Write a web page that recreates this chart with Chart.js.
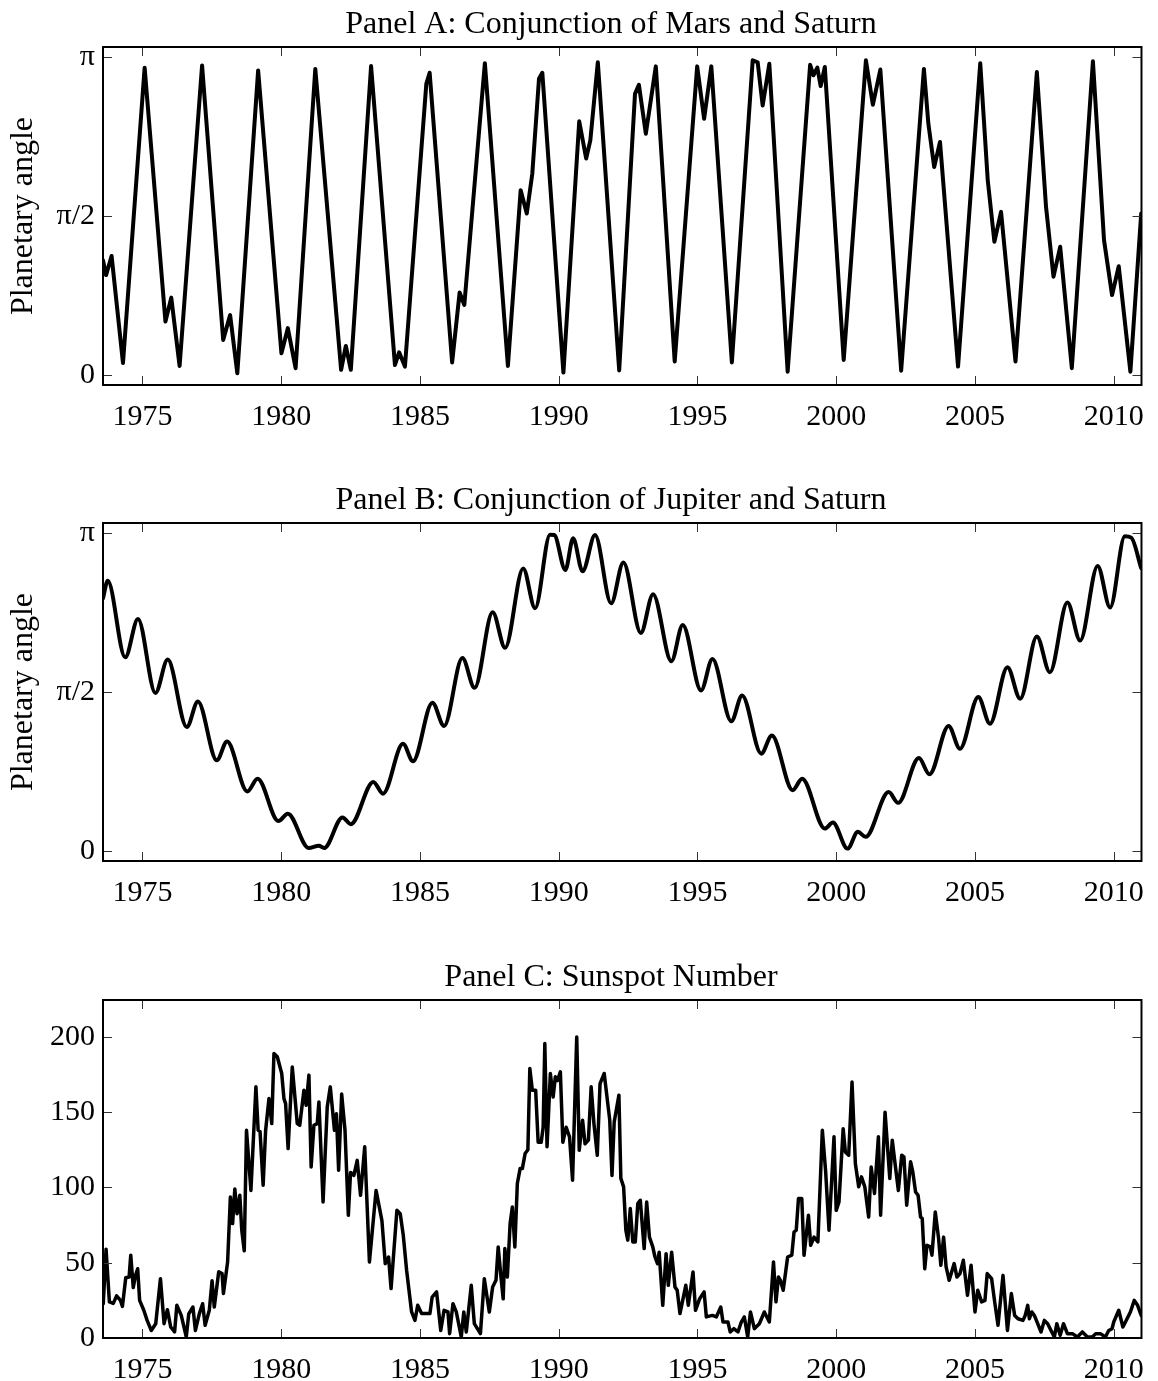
<!DOCTYPE html>
<html>
<head>
<meta charset="utf-8">
<title>Planetary conjunctions and sunspots</title>
<script src="https://cdn.jsdelivr.net/npm/chart.js@4.4.0/dist/chart.umd.min.js"></script>
<style>
  body { margin: 0; background: #fff; width: 1158px; height: 1381px; overflow: hidden; position: relative; }
  canvas { position: absolute; left: 0; }
</style>
</head>
<body>
<canvas id="panelA" width="1158" height="476" style="top:0px"></canvas>
<canvas id="panelB" width="1158" height="476" style="top:476px"></canvas>
<canvas id="panelC" width="1158" height="428" style="top:953px"></canvas>
<script>
// x ticks shared by all panels
var yearTicks = [1975, 1980, 1985, 1990, 1995, 2000, 2005, 2010];

// Panel A: Mars / Saturn angle, in units of pi
var yearsA = [1973.58, 1973.69, 1973.89, 1974.30, 1975.08, 1975.83, 1976.04, 1976.34, 1977.15, 1977.91,
  1978.16, 1978.42, 1979.17, 1980.01, 1980.24, 1980.52, 1981.23, 1982.16, 1982.33, 1982.51,
  1983.24, 1984.10, 1984.25, 1984.46, 1985.23, 1985.35, 1986.16, 1986.43, 1986.60, 1987.34,
  1988.17, 1988.63, 1988.85, 1989.05, 1989.29, 1989.41, 1990.17, 1990.74, 1990.99, 1991.14,
  1991.41, 1992.18, 1992.75, 1992.89, 1993.14, 1993.50, 1994.18, 1994.99, 1995.24, 1995.50,
  1996.24, 1996.99, 1997.17, 1997.35, 1997.59, 1998.25, 1999.06, 1999.18, 1999.32, 1999.44,
  1999.59, 2000.27, 2001.07, 2001.32, 2001.59, 2002.34, 2003.16, 2003.32, 2003.53, 2003.74,
  2004.39, 2005.19, 2005.46, 2005.70, 2005.94, 2006.46, 2007.23, 2007.56, 2007.83, 2008.07,
  2008.49, 2009.25, 2009.65, 2009.94, 2010.18, 2010.60, 2010.99];
var angleA = [0.361, 0.314, 0.374, 0.037, 0.967, 0.168, 0.243, 0.028, 0.974, 0.110,
  0.188, 0.005, 0.958, 0.068, 0.147, 0.021, 0.963, 0.016, 0.091, 0.016,
  0.972, 0.031, 0.071, 0.026, 0.916, 0.951, 0.039, 0.259, 0.220, 0.981,
  0.028, 0.581, 0.508, 0.634, 0.932, 0.951, 0.007, 0.798, 0.681, 0.738,
  0.984, 0.014, 0.885, 0.913, 0.759, 0.971, 0.042, 0.971, 0.806, 0.971,
  0.039, 0.990, 0.984, 0.848, 0.979, 0.010, 0.976, 0.943, 0.967, 0.909,
  0.969, 0.047, 0.990, 0.850, 0.961, 0.013, 0.963, 0.791, 0.654, 0.733,
  0.026, 0.981, 0.613, 0.419, 0.513, 0.042, 0.953, 0.529, 0.309, 0.403,
  0.021, 0.987, 0.424, 0.251, 0.342, 0.010, 0.508];

// Panel B: Jupiter / Saturn angle, in units of pi
var yearsB = [1973.58, 1973.75, 1974.38, 1974.84, 1975.47, 1975.91, 1976.60, 1977.00, 1977.68, 1978.05,
  1978.78, 1979.15, 1979.90, 1980.24, 1980.99, 1981.36, 1981.55, 1982.21, 1982.51, 1983.32,
  1983.67, 1984.39, 1984.75, 1985.45, 1985.87, 1986.53, 1986.97, 1987.62, 1988.07, 1988.72,
  1989.15, 1989.69, 1989.84, 1990.24, 1990.52, 1990.86, 1991.31, 1991.89, 1992.33, 1992.96,
  1993.40, 1994.06, 1994.47, 1995.13, 1995.54, 1996.22, 1996.61, 1997.30, 1997.68, 1998.43,
  1998.77, 1999.59, 1999.88, 2000.41, 2000.78, 2001.06, 2001.89, 2002.23, 2002.98, 2003.36,
  2004.05, 2004.46, 2005.12, 2005.54, 2006.17, 2006.63, 2007.23, 2007.70, 2008.33, 2008.79,
  2009.42, 2009.87, 2010.40, 2010.63, 2010.99];
var angleB = [0.795, 0.850, 0.609, 0.730, 0.497, 0.602, 0.390, 0.470, 0.285, 0.344,
  0.187, 0.227, 0.094, 0.117, 0.009, 0.016, 0.009, 0.105, 0.084, 0.217,
  0.180, 0.337, 0.282, 0.466, 0.393, 0.607, 0.513, 0.751, 0.639, 0.889,
  0.764, 0.995, 0.994, 0.884, 0.984, 0.880, 0.994, 0.779, 0.908, 0.686,
  0.808, 0.597, 0.711, 0.505, 0.604, 0.408, 0.489, 0.306, 0.363, 0.191,
  0.227, 0.070, 0.089, 0.007, 0.060, 0.044, 0.185, 0.151, 0.292, 0.241,
  0.393, 0.321, 0.484, 0.400, 0.578, 0.479, 0.675, 0.562, 0.782, 0.662,
  0.897, 0.766, 0.990, 0.986, 0.890];

// Panel C: sunspot number
var yearsC = [1973.59, 1973.69, 1973.81, 1973.95, 1974.07, 1974.21, 1974.28, 1974.40, 1974.52, 1974.58,
  1974.67, 1974.75, 1974.83, 1974.90, 1975.05, 1975.17, 1975.32, 1975.48, 1975.65, 1975.78,
  1975.90, 1976.02, 1976.16, 1976.24, 1976.40, 1976.58, 1976.67, 1976.82, 1976.91, 1977.05,
  1977.17, 1977.26, 1977.41, 1977.51, 1977.59, 1977.75, 1977.87, 1977.92, 1978.07, 1978.17,
  1978.25, 1978.33, 1978.41, 1978.51, 1978.58, 1978.67, 1978.75, 1978.91, 1979.09, 1979.17,
  1979.24, 1979.35, 1979.44, 1979.56, 1979.66, 1979.74, 1979.86, 1980.02, 1980.10, 1980.16,
  1980.25, 1980.40, 1980.58, 1980.67, 1980.82, 1980.90, 1981.00, 1981.08, 1981.18, 1981.30,
  1981.36, 1981.51, 1981.66, 1981.77, 1981.92, 1981.99, 1982.07, 1982.18, 1982.30, 1982.42,
  1982.50, 1982.62, 1982.74, 1982.86, 1983.01, 1983.18, 1983.42, 1983.63, 1983.75, 1983.87,
  1983.96, 1984.17, 1984.29, 1984.40, 1984.52, 1984.70, 1984.82, 1984.92, 1985.06, 1985.24,
  1985.36, 1985.44, 1985.60, 1985.75, 1985.87, 1986.01, 1986.07, 1986.19, 1986.31, 1986.49,
  1986.58, 1986.67, 1986.85, 1986.96, 1987.18, 1987.32, 1987.50, 1987.62, 1987.74, 1987.82,
  1987.92, 1988.00, 1988.06, 1988.15, 1988.25, 1988.33, 1988.42, 1988.51, 1988.61, 1988.69,
  1988.79, 1988.89, 1988.96, 1989.05, 1989.17, 1989.26, 1989.37, 1989.44, 1989.50, 1989.58,
  1989.70, 1989.80, 1989.88, 1989.96, 1990.06, 1990.15, 1990.27, 1990.39, 1990.50, 1990.65,
  1990.74, 1990.86, 1990.95, 1991.07, 1991.17, 1991.27, 1991.39, 1991.49, 1991.64, 1991.84,
  1991.92, 1992.00, 1992.17, 1992.24, 1992.34, 1992.42, 1992.49, 1992.58, 1992.67, 1992.76,
  1992.85, 1992.94, 1993.08, 1993.17, 1993.27, 1993.39, 1993.47, 1993.56, 1993.62, 1993.75,
  1993.87, 1993.95, 1994.07, 1994.19, 1994.27, 1994.37, 1994.58, 1994.67, 1994.84, 1994.93,
  1995.08, 1995.24, 1995.32, 1995.54, 1995.68, 1995.84, 1995.92, 1996.10, 1996.18, 1996.31,
  1996.46, 1996.58, 1996.69, 1996.81, 1996.91, 1997.05, 1997.23, 1997.41, 1997.59, 1997.74,
  1997.83, 1997.92, 1997.99, 1998.09, 1998.25, 1998.40, 1998.48, 1998.56, 1998.64, 1998.76,
  1998.84, 1999.00, 1999.08, 1999.20, 1999.34, 1999.50, 1999.62, 1999.74, 1999.92, 2000.00,
  2000.10, 2000.25, 2000.33, 2000.45, 2000.57, 2000.69, 2000.81, 2000.91, 2001.03, 2001.17,
  2001.26, 2001.38, 2001.52, 2001.60, 2001.76, 2001.93, 2002.02, 2002.12, 2002.24, 2002.36,
  2002.44, 2002.54, 2002.68, 2002.76, 2002.86, 2002.95, 2003.04, 2003.10, 2003.19, 2003.27,
  2003.39, 2003.45, 2003.57, 2003.69, 2003.77, 2003.87, 2003.96, 2004.07, 2004.25, 2004.35,
  2004.46, 2004.58, 2004.73, 2004.86, 2005.00, 2005.10, 2005.24, 2005.36, 2005.44, 2005.60,
  2005.71, 2005.83, 2006.01, 2006.17, 2006.31, 2006.43, 2006.55, 2006.73, 2006.81, 2006.90,
  2006.96, 2007.05, 2007.14, 2007.26, 2007.38, 2007.50, 2007.62, 2007.74, 2007.86, 2007.95,
  2008.07, 2008.19, 2008.33, 2008.51, 2008.69, 2008.87, 2009.05, 2009.23, 2009.35, 2009.52,
  2009.70, 2009.82, 2009.94, 2010.00, 2010.18, 2010.33, 2010.48, 2010.60, 2010.74, 2010.86,
  2010.99];
var sunspots = [22.8, 59, 24, 23, 28, 25, 21, 40, 40.5, 55,
  33.5, 41.6, 46, 25, 18.4, 11.7, 5, 9.5, 39.4, 9.5,
  18.8, 7.3, 4, 21.7, 15, 0.7, 16, 20.6, 5, 16,
  22.8, 8.4, 18.4, 38, 20.6, 44, 42.8, 29.5, 50.5, 93.7,
  76, 99, 82.6, 94.8, 71.6, 58, 138, 98, 166.8, 138,
  137, 101.5, 138, 159, 142.4, 189, 186.8, 175.7, 159, 155.7,
  125.8, 180, 142.4, 141.3, 164.6, 154.6, 174.6, 113.6, 141.3, 142.4,
  156.8, 90.4, 153.5, 166.8, 138, 149, 111.4, 162, 138, 81.5,
  110, 108, 118, 94.8, 127, 50.5, 98, 78, 49.4, 53.8,
  32.8, 84.8, 82.6, 68.2, 45, 17.3, 11.7, 21.7, 16.2, 16.2,
  16.2, 27.2, 30.6, 5, 18.4, 17.3, 2.9, 22.8, 17.3, 0.7,
  17.3, 4, 35, 9.5, 2.9, 39.4, 17.3, 33.9, 38.3, 60.5,
  40.5, 26, 59.4, 40.5, 76, 87, 60.5, 102.6, 112.5, 112.5,
  122.5, 125, 179, 164.6, 164.6, 130, 130, 140, 195.6, 127,
  175.7, 160, 173.5, 171, 176.8, 130, 140, 133.6, 104.8, 200,
  124.7, 144.7, 129, 131.4, 166.8, 142.4, 121.4, 169, 175.7, 144.7,
  108, 143.5, 161.3, 106, 100.4, 71.6, 65, 86, 63.8, 63.8,
  89.3, 91.5, 59.4, 90.4, 67, 60.5, 53.8, 49.4, 57, 21.7,
  56, 35, 57, 33.9, 31.7, 16.2, 35, 21.7, 43.9, 18.4,
  26.1, 30.6, 14, 15, 14, 20.6, 10.6, 10.6, 4, 6.2,
  4, 10.6, 14, 0.7, 17.3, 6.2, 9.5, 17.3, 10.6, 50.5,
  24, 40.5, 38.3, 31.7, 53.8, 55, 70.4, 71.6, 92.6, 92.6,
  55, 81.5, 61.6, 67, 63.8, 138, 110.3, 71.6, 133.6, 84.8,
  90.4, 139, 123.6, 121.4, 170, 115.9, 100.4, 107, 100.4, 80.4,
  113.6, 96, 133.6, 81.5, 150, 106, 131.4, 115.9, 98, 121.4,
  120.3, 88.2, 117, 110.3, 97, 94.8, 80.4, 79.3, 46, 61.6,
  60.5, 55, 83.7, 66, 48.3, 67, 47.2, 38.3, 49.4, 40.5,
  42.8, 51.6, 28.4, 48.3, 17.3, 31.7, 24, 25, 42.8, 39.4,
  24, 8.4, 41.6, 5, 29.5, 15, 12.8, 11.7, 15, 21.7,
  12.8, 17.3, 15, 9.5, 4, 11.7, 9.5, 5, 0.7, 9.5,
  1.8, 9.5, 2.9, 2.9, 0.7, 4, 0.7, 0.7, 2.9, 2.9,
  0.7, 5, 6.2, 10.6, 18.4, 7.3, 12.8, 17.3, 25, 21.7,
  15];

var FONT = '"Liberation Serif", "Times New Roman", Times, serif';

function toPoints(xs, ys) {
    return xs.map(function (x, i) { return { x: x, y: ys[i] }; });
}

// box, inward ticks on all four sides, and the panel title
var framePlugin = {
    id: 'frame',
    afterDraw: function (chart, args, opts) {
        var ctx = chart.ctx;
        var a = chart.chartArea;
        var sx = chart.scales.x, sy = chart.scales.y;
        var len = 9;
        ctx.save();
        ctx.strokeStyle = '#333';
        ctx.lineWidth = 1;
        ctx.beginPath();
        sx.ticks.forEach(function (t) {
            var px = Math.round(sx.getPixelForValue(t.value)) + 0.5;
            ctx.moveTo(px, a.bottom); ctx.lineTo(px, a.bottom - len);
            ctx.moveTo(px, a.top); ctx.lineTo(px, a.top + len);
        });
        sy.ticks.forEach(function (t) {
            var py = Math.round(sy.getPixelForValue(t.value)) + 0.5;
            ctx.moveTo(a.left, py); ctx.lineTo(a.left + len, py);
            ctx.moveTo(a.right, py); ctx.lineTo(a.right - len, py);
        });
        ctx.stroke();
        ctx.strokeStyle = '#000';
        ctx.lineWidth = 2;
        ctx.strokeRect(a.left, a.top, a.right - a.left, a.bottom - a.top);
        // title
        ctx.fillStyle = '#000';
        ctx.font = '32px ' + FONT;
        ctx.textAlign = 'center';
        ctx.textBaseline = 'alphabetic';
        ctx.fillText(opts.text, 611, 33);
        ctx.restore();
    }
};

function makePanel(id, cfg) {
    var canvas = document.getElementById(id);
    var h = canvas.height;
    return new Chart(canvas, {
        type: 'line',
        data: {
            datasets: [{
                data: cfg.points,
                borderColor: '#000',
                borderWidth: cfg.lineWidth,
                pointRadius: 0,
                fill: false,
                tension: cfg.tension || 0,
                cubicInterpolationMode: cfg.monotone ? 'monotone' : 'default',
                borderJoinStyle: 'round',
                borderCapStyle: 'round'
            }]
        },
        options: {
            responsive: false,
            animation: false,
            events: [],
            layout: { padding: { top: 47, right: 10, left: 0, bottom: 0 } },
            plugins: {
                legend: { display: false },
                tooltip: { enabled: false },
                frame: { text: cfg.title }
            },
            scales: {
                x: {
                    type: 'linear',
                    min: 1973.58,
                    max: 2011.0,
                    grid: { display: false, drawTicks: false },
                    border: { display: false },
                    afterBuildTicks: function (scale) {
                        scale.ticks = yearTicks.map(function (v) { return { value: v }; });
                    },
                    afterFit: function (scale) { scale.height = h - 385; },
                    ticks: {
                        autoSkip: false,
                        maxRotation: 0,
                        padding: 14,
                        color: '#000',
                        font: { family: FONT, size: 30 },
                        callback: function (v) { return String(v); }
                    }
                },
                y: {
                    type: 'linear',
                    min: cfg.yMin,
                    max: cfg.yMax,
                    grid: { display: false, drawTicks: false },
                    border: { display: false },
                    afterBuildTicks: function (scale) {
                        scale.ticks = cfg.yTicks.map(function (v) { return { value: v }; });
                    },
                    afterFit: function (scale) { scale.width = 103; },
                    title: {
                        display: !!cfg.yTitle,
                        text: cfg.yTitle || '',
                        color: '#000',
                        font: { family: FONT, size: 32 },
                        padding: { top: 4, bottom: 0 }
                    },
                    ticks: {
                        padding: 8,
                        color: '#000',
                        font: { family: FONT, size: 30 },
                        callback: function (v, i) { return cfg.yLabels[i]; }
                    }
                }
            }
        },
        plugins: [framePlugin]
    });
}

var angleTicks = [0, 0.5, 1];
var angleLabels = ['0', '\u03c0/2', '\u03c0'];
var sunTicks = [0, 50, 100, 150, 200];
var sunLabels = ['0', '50', '100', '150', '200'];

makePanel('panelA', {
    title: 'Panel A: Conjunction of Mars and Saturn',
    points: toPoints(yearsA, angleA),
    lineWidth: 4,
    tension: 0,
    yMin: -0.032, yMax: 1.032,
    yTicks: angleTicks, yLabels: angleLabels,
    yTitle: 'Planetary angle'
});

makePanel('panelB', {
    title: 'Panel B: Conjunction of Jupiter and Saturn',
    points: toPoints(yearsB, angleB),
    lineWidth: 4,
    monotone: true,
    yMin: -0.032, yMax: 1.032,
    yTicks: angleTicks, yLabels: angleLabels,
    yTitle: 'Planetary angle'
});

makePanel('panelC', {
    title: 'Panel C: Sunspot Number',
    points: toPoints(yearsC, sunspots),
    lineWidth: 3.5,
    tension: 0,
    yMin: 0, yMax: 224.5,
    yTicks: sunTicks, yLabels: sunLabels,
    yTitle: ''
});
</script>
</body>
</html>
